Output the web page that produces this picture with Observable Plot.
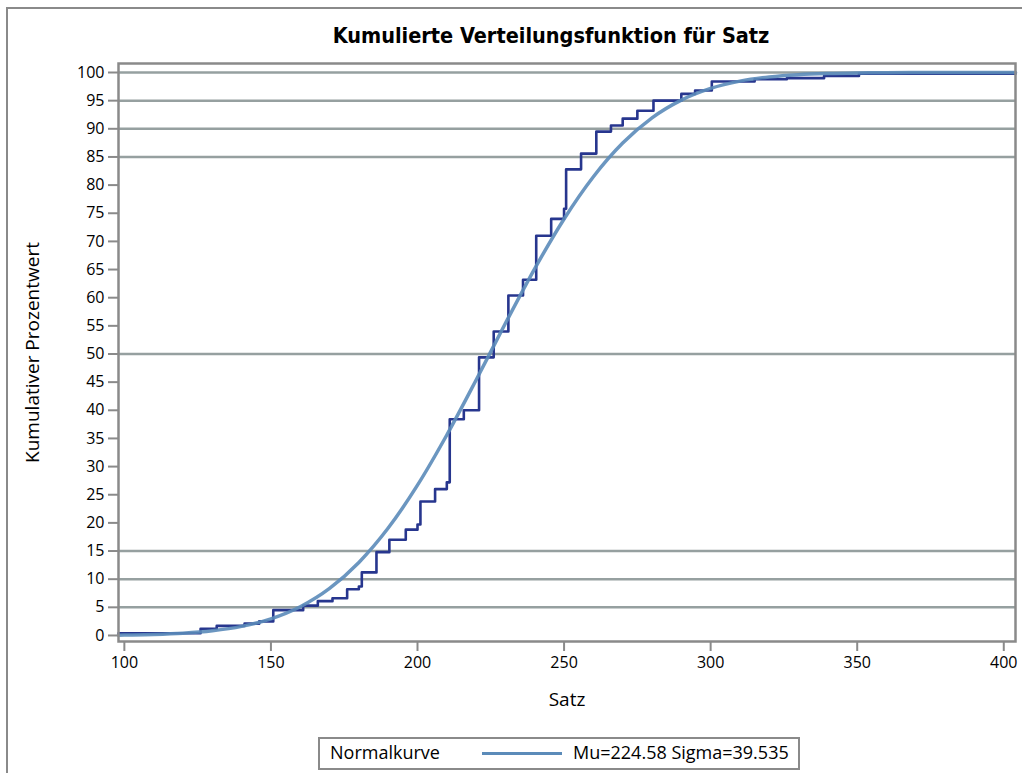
<!DOCTYPE html>
<html>
<head>
<meta charset="utf-8">
<script src="https://cdn.jsdelivr.net/npm/d3@7"></script>
<script src="https://cdn.jsdelivr.net/npm/@observablehq/plot@0.6"></script>
<style>
  html, body { margin: 0; padding: 0; background: #fff; }
  #wrap { position: relative; width: 1022px; height: 773px; overflow: hidden; font-family: "Open Sans", "DejaVu Sans", sans-serif; }
  #border { position: absolute; left: 6px; top: 7px; width: 1030px; height: 800px; border-left: 2px solid #8a8a8a; border-top: 2px solid #8a8a8a; }
  #title { position: absolute; left: 251px; top: 23px; width: 600px; text-align: center; font-family: "DejaVu Sans Condensed", "DejaVu Sans", sans-serif; font-stretch: condensed; font-weight: bold; font-size: 21.5px; color: #000; white-space: nowrap; }
  #chart { position: absolute; left: 0; top: 55px; }
  #legend { position: absolute; left: 318px; top: 737px; width: 478px; height: 29px; border: 2px solid #8a8a8a; font-size: 18px; color: #000; }
  #legend .lab { position: absolute; left: 10px; top: 1px; }
  #legend .swatch { position: absolute; left: 162px; top: 13px; width: 80px; height: 3px; background: #5b8bb9; }
  #legend .txt { position: absolute; left: 253px; top: 1px; white-space: nowrap; }
</style>
</head>
<body>
<div id="wrap">
  <div id="border"></div>
  <div id="title">Kumulierte Verteilungsfunktion für Satz</div>
  <div id="chart"></div>
  <div id="legend">
    <span class="lab">Normalkurve</span>
    <span class="swatch"></span>
    <span class="txt">Mu=224.58 Sigma=39.535</span>
  </div>
</div>
<script>
// Empirical CDF steps (value of Satz where each step starts, cumulative percent)
const stepSatz = [98, 126, 131.5, 141, 146, 150.8, 161, 166, 171, 176, 180, 181, 186, 190.4, 196, 200, 201, 206, 210, 211, 215.8, 221, 226, 231, 236, 240.5, 245.6, 250, 250.7, 255.8, 261, 266, 270, 275, 280.5, 290, 294.7, 300.4, 315, 326, 338.7, 350.6, 404];
const stepPct  = [0.4, 1.2, 1.7, 2.1, 2.5, 4.5, 5.3, 6.1, 6.6, 8.2, 8.7, 11.2, 14.8, 17.0, 18.8, 19.7, 23.8, 26.0, 27.2, 38.4, 40.0, 49.4, 54.0, 60.4, 63.2, 71.0, 74.0, 75.8, 82.8, 85.6, 89.5, 90.6, 91.8, 93.2, 95.0, 96.2, 96.8, 98.4, 98.8, 99.0, 99.4, 99.8, 99.8];

// Fitted normal curve (Mu=224.58, Sigma=39.535), values read as cumulative percent
const normSatz = [98, 100, 110, 120, 130, 140, 150, 160, 170, 180, 190, 200, 210, 220, 230, 240, 250, 260, 270, 280, 290, 300, 310, 320, 330, 340, 350, 360, 370, 380, 404];
const normPct  = [0.06, 0.08, 0.19, 0.41, 0.84, 1.62, 2.96, 5.11, 8.36, 12.97, 19.08, 26.70, 35.61, 45.38, 55.45, 65.17, 73.99, 81.49, 87.47, 91.95, 95.10, 97.18, 98.47, 99.21, 99.62, 99.82, 99.92, 99.97, 99.99, 100, 100];

const refLines = [5, 10, 15, 50, 85, 90, 95, 100];
const yTicks = d3.range(0, 101, 5);
const xTicks = [100, 150, 200, 250, 300, 350, 400];

const steps = stepSatz.map((x, i) => ({x, y: stepPct[i]}));
const normal = normSatz.map((x, i) => ({x, y: normPct[i]}));

const chart = Plot.plot({
  width: 1022,
  height: 661,
  marginTop: 8,
  marginBottom: 75,
  marginLeft: 118,
  marginRight: 7,
  style: {fontFamily: "'Open Sans', 'DejaVu Sans', sans-serif", fontSize: "16px", color: "#000", background: "transparent", overflow: "visible"},
  x: {domain: [98, 404]},
  y: {domain: [-1.07, 101.6]},
  marks: [
    Plot.ruleY(refLines, {stroke: "#96a0a0", strokeWidth: 2.5}),
    Plot.line(steps, {x: "x", y: "y", stroke: "#27368e", strokeWidth: 2.6, curve: "step-after"}),
    Plot.line(normal, {x: "x", y: "y", stroke: "#5b8bb9", strokeWidth: 3.5, curve: "monotone-x", strokeOpacity: 0.9}),
    Plot.frame({stroke: "#8a8a8a", strokeWidth: 2.5}),
    Plot.axisY({ticks: yTicks, tickSize: 10, tickPadding: 4, stroke: "#8a8a8a", strokeWidth: 2, fill: "#000", fontSize: 16, label: null}),
    Plot.axisX({ticks: xTicks, tickSize: 10, tickPadding: 5, stroke: "#8a8a8a", strokeWidth: 2, fill: "#000", fontSize: 16, label: null}),
    Plot.text(["Kumulativer Prozentwert"], {frameAnchor: "left", textAnchor: "middle", dx: -86, rotate: -90, fontSize: 19, fill: "#000"}),
    Plot.text(["Satz"], {frameAnchor: "bottom", textAnchor: "middle", dy: 64, fontSize: 19, fill: "#000"})
  ]
});
document.getElementById("chart").appendChild(chart);
</script>
</body>
</html>
